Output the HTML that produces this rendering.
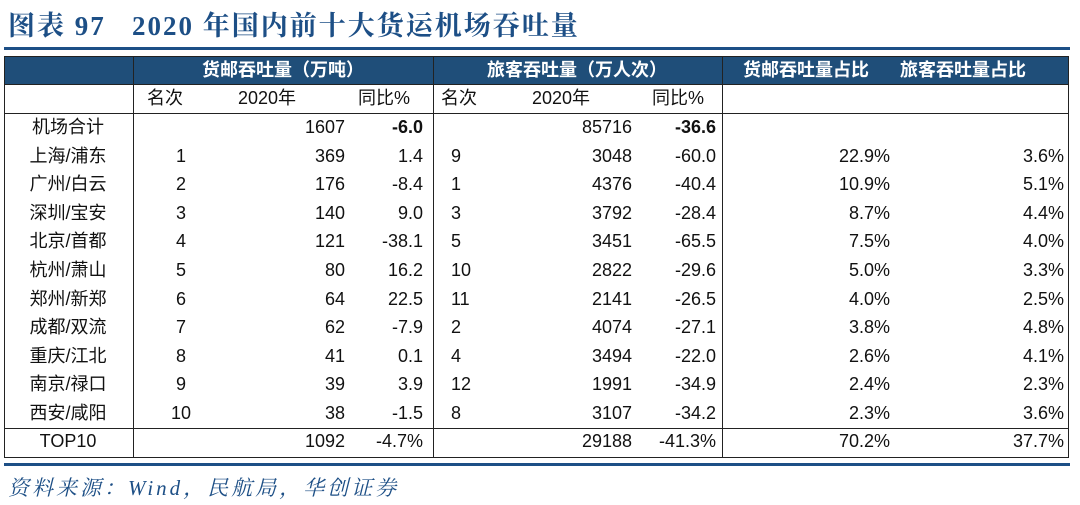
<!DOCTYPE html>
<html><head><meta charset="utf-8">
<style>
body{margin:0;width:1080px;height:505px;background:#fff;position:relative;overflow:hidden;font-family:"Liberation Sans","Noto Sans CJK SC",sans-serif;color:#111}
.a{position:absolute;white-space:nowrap;font-size:18px;line-height:20px}
.c{transform:translateX(-50%)}
.r{transform:translateX(-100%)}
.h{color:#fff;font-weight:bold;font-size:18px}
.ln{position:absolute;background:#222}
</style></head><body>
<div class="a" style="left:8px;top:11px;font-family:'Liberation Serif','Noto Serif CJK SC',serif;font-weight:bold;font-size:27px;line-height:30px;letter-spacing:2px;color:#1d4f86">图表 97&nbsp;&nbsp; 2020 年国内前十大货运机场吞吐量</div>
<div style="position:absolute;left:4px;top:47px;width:1066px;height:3px;background:#1d4f86"></div>
<div style="position:absolute;left:4px;top:56px;width:1065px;height:28px;background:#1f4e79"></div>
<div class="ln" style="left:4px;top:56px;width:1065px;height:1px"></div>
<div class="ln" style="left:4px;top:84px;width:1065px;height:1px"></div>
<div class="ln" style="left:4px;top:113px;width:1065px;height:1px"></div>
<div class="ln" style="left:4px;top:428px;width:1065px;height:1px"></div>
<div class="ln" style="left:4px;top:457px;width:1065px;height:1px"></div>
<div class="ln" style="left:4px;top:56px;width:1px;height:402px"></div>
<div class="ln" style="left:133px;top:56px;width:1px;height:402px"></div>
<div class="ln" style="left:433px;top:56px;width:1px;height:402px"></div>
<div class="ln" style="left:722px;top:56px;width:1px;height:402px"></div>
<div class="ln" style="left:1068px;top:56px;width:1px;height:402px"></div>
<div style="position:absolute;left:4px;top:463px;width:1066px;height:3px;background:#1d4f86"></div>
<div class="a h c" style="left:283px;top:60px">货邮吞吐量（万吨）</div>
<div class="a h c" style="left:577px;top:60px">旅客吞吐量（万人次）</div>
<div class="a h c" style="left:806px;top:60px">货邮吞吐量占比</div>
<div class="a h c" style="left:963px;top:60px">旅客吞吐量占比</div>
<div class="a" style="left:147px;top:88px">名次</div>
<div class="a" style="left:238px;top:88px">2020年</div>
<div class="a" style="left:358px;top:88px">同比%</div>
<div class="a" style="left:441px;top:88px">名次</div>
<div class="a" style="left:532px;top:88px">2020年</div>
<div class="a" style="left:652px;top:88px">同比%</div>
<div class="a" style="left:8px;top:477px;font-family:'Liberation Serif','Noto Serif CJK SC',serif;font-style:italic;font-size:21px;line-height:22px;letter-spacing:3px;color:#1d4f86">资料来源：Wind，民航局，华创证券</div>
<div id="rows"></div>
<script>
const airports=["机场合计","上海/浦东","广州/白云","深圳/宝安","北京/首都","杭州/萧山","郑州/新郑","成都/双流","重庆/江北","南京/禄口","西安/咸阳","TOP10"];
const cargoRank=["","1","2","3","4","5","6","7","8","9","10",""];
const cargoVal=["1607","369","176","140","121","80","64","62","41","39","38","1092"];
const cargoYoy=["-6.0","1.4","-8.4","9.0","-38.1","16.2","22.5","-7.9","0.1","3.9","-1.5","-4.7%"];
const paxRank=["","9","1","3","5","10","11","2","4","12","8",""];
const paxVal=["85716","3048","4376","3792","3451","2822","2141","4074","3494","1991","3107","29188"];
const paxYoy=["-36.6","-60.0","-40.4","-28.4","-65.5","-29.6","-26.5","-27.1","-22.0","-34.9","-34.2","-41.3%"];
const cargoShare=["","22.9%","10.9%","8.7%","7.5%","5.0%","4.0%","3.8%","2.6%","2.4%","2.3%","70.2%"];
const paxShare=["","3.6%","5.1%","4.4%","4.0%","3.3%","2.5%","4.8%","4.1%","2.3%","3.6%","37.7%"];
const host=document.getElementById('rows');
function cell(txt,x,y,cls,name,bold){
  const d=document.createElement('div');
  d.className='a '+cls;
  d.style.left=x+'px';d.style.top=y+'px';
  if(bold)d.style.fontWeight='bold';
  d.textContent=txt;
  
  
  host.appendChild(d);
}
airports.forEach((a,i)=>{
  const y=(i===11?431:117+i*28.6);
  const b=(i===0);
  cell(a,68,y,'c','airport-name',false);
  cell(cargoRank[i],181,y,'c','cargo-rank',false);
  cell(cargoVal[i],345,y,'r','cargo-volume',false);
  cell(cargoYoy[i],423,y,'r','cargo-yoy',b);
  cell(paxRank[i],451,y,'','passenger-rank',false);
  cell(paxVal[i],632,y,'r','passenger-volume',false);
  cell(paxYoy[i],716,y,'r','passenger-yoy',b);
  cell(cargoShare[i],890,y,'r','cargo-share',false);
  cell(paxShare[i],1064,y,'r','passenger-share',false);
});
</script>
</body></html>
